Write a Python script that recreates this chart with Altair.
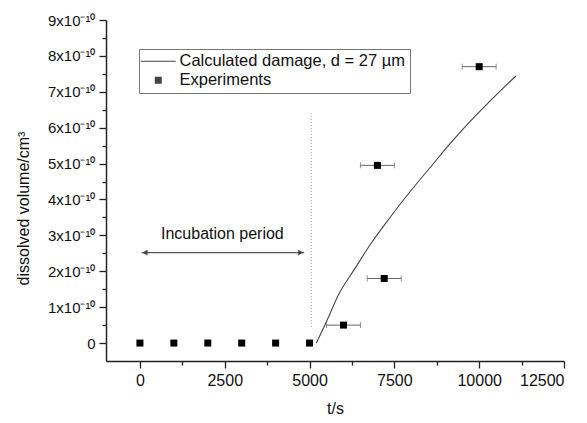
import altair as alt
import pandas as pd

# ---- data ----
exp_t = [0, 1000, 2000, 3000, 4000, 5000, 6000, 7200, 7000, 10000]
exp_v = [0, 0, 0, 0, 0, 0, 0.50e-10, 1.80e-10, 4.95e-10, 7.70e-10]
err_lo = [None, None, None, None, None, None, 5500, 6700, 6500, 9500]
err_hi = [None, None, None, None, None, None, 6500, 7700, 7500, 10500]

calc_t = [5200, 5500, 5850, 6340, 6830, 7270, 7720, 8250, 8600, 9090, 9530, 10310, 11080]
calc_v = [0, 0.60e-10, 1.34e-10, 2.08e-10, 2.80e-10, 3.37e-10, 3.93e-10, 4.55e-10,
          4.94e-10, 5.50e-10, 5.97e-10, 6.73e-10, 7.44e-10]

incub_x = [5050]
incub_y = [0.45e-10]
incub_y2 = [6.40e-10]

arrow_x = [50]
arrow_x2 = [4840]
arrow_y = [2.52e-10]
head_x = [150, 4740]
head_shape = ["triangle-left", "triangle-right"]
label_x = [2430]
label_y = [3.04e-10]
label_text = ["Incubation period"]

series_names = ["Calculated damage, d = 27 µm", "Experiments"]

x_major = [0, 2500, 5000, 7500, 10000, 12500]
x_minor = [1250, 3750, 6250, 8750, 11250]
y_major = [i * 1e-10 for i in range(10)]
y_minor = [(i + 0.5) * 1e-10 for i in range(9)]

# ---- tables ----
exp_df = pd.DataFrame({"t": exp_t, "v": exp_v, "lo": err_lo, "hi": err_hi,
                       "series": ["Experiments"] * len(exp_t)})
err_df = exp_df.dropna(subset=["lo"])
calc_df = pd.DataFrame({"t": calc_t, "v": calc_v})
incub_df = pd.DataFrame({"x": incub_x, "y": incub_y, "y2": incub_y2})
arrow_df = pd.DataFrame({"x": arrow_x, "x2": arrow_x2, "y": arrow_y})
head_df = pd.DataFrame({"x": head_x, "y": arrow_y * 2, "shape": head_shape})
label_df = pd.DataFrame({"x": label_x, "y": label_y, "text": label_text})

FONT = "Liberation Sans"

xscale = alt.Scale(domain=[-1000, 12500], nice=False, zero=False)
yscale = alt.Scale(domain=[-0.5e-10, 9e-10], nice=False, zero=False)

x_axis = alt.Axis(
    values=x_major + x_minor,
    labelExpr="datum.value % 2500 == 0 ? format(datum.value, 'd') : ''",
    tickSize={"condition": {"test": "datum.value % 2500 != 0", "value": 4}, "value": 7},
    labelFontSize=16,
    title="t/s", titlePadding=12,
)
y_axis = alt.Axis(
    values=y_major + y_minor,
    labelExpr=("abs(datum.value*1e10 - round(datum.value*1e10)) > 0.1 ? '' : "
               "(round(datum.value*1e10) == 0 ? '0' : "
               "format(round(datum.value*1e10), 'd') + 'x10⁻¹⁰')"),
    tickSize={"condition": {"test": "abs(datum.value*1e10 - round(datum.value*1e10)) > 0.1",
                            "value": 4}, "value": 7},
    title="dissolved volume/cm³", titleFontSize=16,
    titleX=-83, titleY=188, titleBaseline="middle", titleAngle=270,
)

X = lambda f: alt.X(f, type="quantitative", scale=xscale, axis=x_axis)
Y = lambda f: alt.Y(f, type="quantitative", scale=yscale, axis=y_axis)

curve = alt.Chart(calc_df).mark_line(color="#444", strokeWidth=1.1, interpolate="monotone").encode(
    x=X("t"), y=Y("v"))

incub = alt.Chart(incub_df).mark_rule(color="#999", strokeWidth=1, strokeDash=[1, 2]).encode(
    x=X("x"), y=Y("y"), y2="y2")

arrow = alt.Chart(arrow_df).mark_rule(color="#555", strokeWidth=1.2).encode(
    x=X("x"), x2="x2", y=Y("y"))

heads = alt.Chart(head_df).mark_point(filled=True, color="#444", size=35, opacity=1).encode(
    x=X("x"), y=Y("y"),
    shape=alt.Shape("shape:N", scale=None))

label = alt.Chart(label_df).mark_text(font=FONT, fontSize=16, color="#111").encode(
    x=X("x"), y=Y("y"), text="text")

err = alt.Chart(err_df).mark_rule(color="#666", strokeWidth=1).encode(
    x=X("lo"), x2="hi", y=Y("v"))
caps_lo = alt.Chart(err_df).mark_tick(color="#666", orient="vertical", size=6, thickness=1).encode(
    x=X("lo"), y=Y("v"))
caps_hi = alt.Chart(err_df).mark_tick(color="#666", orient="vertical", size=6, thickness=1).encode(
    x=X("hi"), y=Y("v"))

leg = alt.Legend(
    title=None, orient="none", legendX=33, legendY=29,
    padding=4, strokeColor="#777", fillColor="white",
    labelFont=FONT, labelFontSize=16.5, labelColor="#111", labelLimit=400,
    symbolSize=49, symbolOffset=7, labelOffset=13,
    rowPadding=2, symbolFillColor="black", symbolStrokeWidth=0,
)
points = alt.Chart(exp_df).mark_point(filled=True, color="black", size=49, opacity=1).encode(
    x=X("t"), y=Y("v"),
    shape=alt.Shape("series:N",
                    scale=alt.Scale(domain=series_names,
                                    range=["M-5,-0.15L5,-0.15L5,0.15L-5,0.15Z", "square"]),
                    legend=leg),
)

chart = alt.layer(incub, arrow, heads, label, curve, err, caps_lo, caps_hi, points).properties(
    width=458, height=341,
    padding={"left": 7, "top": 5, "right": 5, "bottom": 5},
).configure(font=FONT).configure_view(stroke=None).configure_axis(
    grid=False, domainColor="#222", domainWidth=1.5, tickColor="#222", tickWidth=1.3,
    labelFont=FONT, labelFontSize=15, labelColor="#111", labelPadding=4,
    titleFont=FONT, titleFontSize=16, titleFontWeight="normal", titleColor="#111",
)

chart.save("out.html", embed_options={"renderer": "svg", "actions": False})
